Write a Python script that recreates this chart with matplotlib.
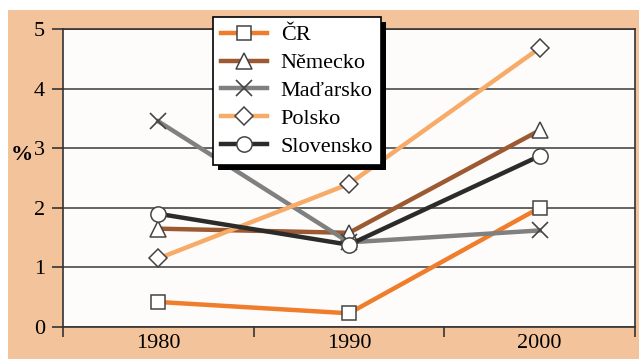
import numpy as np
import matplotlib.pyplot as plt
from matplotlib.patches import Rectangle
from matplotlib.transforms import IdentityTransform

plt.rcParams['font.family'] = ['Liberation Serif', 'DejaVu Serif']

years = ['1980', '1990', '2000']
countries = ['ČR', 'Německo', 'Maďarsko', 'Polsko', 'Slovensko']
cr = [0.42, 0.23, 2.0]
nemecko = [1.65, 1.58, 3.3]
madarsko = [3.45, 1.42, 1.62]
polsko = [1.15, 2.4, 4.68]
slovensko = [1.9, 1.38, 2.87]

series = [cr, nemecko, madarsko, polsko, slovensko]
colors = ['#f07d2c', '#9b5a31', '#808080', '#f6ab68', '#2b2b2b']
markers = ['s', '^', 'x', 'D', 'o']
msizes = [10, 12, 11, 9, 11]

W, H = 639, 359
fig = plt.figure(figsize=(W / 100, H / 100), dpi=100, facecolor='white')
# peach backdrop, leaving a thin white margin top and left
fig.patches.append(Rectangle((8 / W, 0), 1, 1 - 10 / H, transform=fig.transFigure,
                             facecolor='#f3c49c', edgecolor='none', zorder=-10))

ax = fig.add_axes([63 / W, 32 / H, 572 / W, 298 / H])
ax.set_facecolor('#fdfcfa')

x = np.arange(len(years))
for vals, c, m, ms, name in zip(series, colors, markers, msizes, countries):
    if m == 'x':
        ax.plot(x, vals, color=c, lw=3.2, marker=m, ms=ms, mec='#444444', mew=1.2,
                label=name, zorder=3)
    else:
        ax.plot(x, vals, color=c, lw=3.2, marker=m, ms=ms, mfc='white', mec='#444444',
                mew=1.1, label=name, zorder=3)

ax.set_xlim(-0.5, 2.5)
ax.set_ylim(0, 5)
ax.set_yticks(range(6))
ax.set_yticklabels([str(v) for v in range(6)], fontsize=16)
ax.set_xticks(x)
ax.set_xticklabels(years, fontsize=16)
ax.set_xticks([-0.5, 0.5, 1.5, 2.5], minor=True)
ax.tick_params(axis='x', which='major', length=0, pad=5)
ax.tick_params(axis='x', which='minor', length=7, width=1.2, color='#333333')
ax.tick_params(axis='y', length=8, width=1.2, color='#333333', pad=5)
ax.grid(axis='y', color='#3a3a3a', lw=1.1, zorder=1)
for s in ax.spines.values():
    s.set_color('#333333')
    s.set_linewidth(1.2)

fig.text(22 / W, 1 - 155 / H, '%', fontsize=16, fontweight='bold', ha='center', va='center')

leg = ax.legend(loc='upper left', bbox_to_anchor=(0.262, 1.04), borderaxespad=0, fontsize=16,
                handlelength=2.1, labelspacing=0.33, borderpad=0.35, handletextpad=0.6,
                fancybox=False, framealpha=1, edgecolor='black')
leg.get_frame().set_linewidth(1.2)
leg.set_zorder(6)

# solid drop shadow behind the legend box
fig.canvas.draw()
bb = leg.get_window_extent()
shadow = Rectangle((bb.x0 + 5, bb.y0 - 5), bb.width, bb.height, transform=IdentityTransform(),
                   facecolor='black', edgecolor='none', zorder=5, clip_on=False)
ax.add_artist(shadow)

fig.savefig('out.png', dpi=100, facecolor=fig.get_facecolor())
